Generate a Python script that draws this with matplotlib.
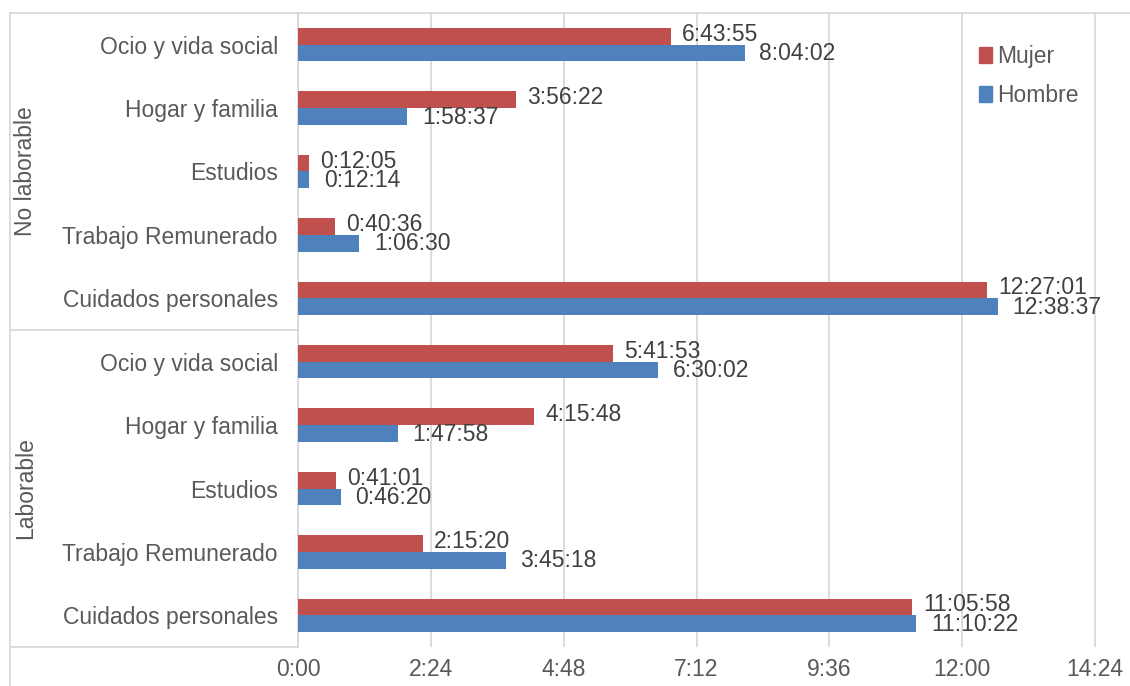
import matplotlib
matplotlib.use('Agg')
import matplotlib.pyplot as plt
import matplotlib.patches as patches
from matplotlib.lines import Line2D
from matplotlib.ticker import FixedLocator, FuncFormatter

plt.rcParams['font.family'] = ['Liberation Sans', 'DejaVu Sans']

# datos (de abajo hacia arriba): Laborable primero, luego No laborable
categorias = ['Cuidados personales', 'Trabajo Remunerado', 'Estudios',
              'Hogar y familia', 'Ocio y vida social'] * 2
grupos = ['Laborable', 'No laborable']
mujer = ['11:05:58', '2:15:20', '0:41:01', '4:15:48', '5:41:53',
         '12:27:01', '0:40:36', '0:12:05', '3:56:22', '6:43:55']
hombre = ['11:10:22', '3:45:18', '0:46:20', '1:47:58', '6:30:02',
          '12:38:37', '1:06:30', '0:12:14', '1:58:37', '8:04:02']
ticks_h = [0, 2.4, 4.8, 7.2, 9.6, 12.0, 14.4]

C_MUJER = '#C0504D'
C_HOMBRE = '#4F81BD'
C_GRID = '#D9D9D9'
C_TEXT = '#595959'
C_LABEL = '#404040'
FS = 16.5


def to_hours(s):
    h, m, sec = [int(v) for v in s.split(':')]
    return h + m / 60 + sec / 3600


def fmt_tick(x, pos):
    total = int(round(x * 60))
    return f"{total // 60}:{total % 60:02d}"


W, H = 1130, 686
fig = plt.figure(figsize=(W / 100, H / 100), dpi=100)
ax = fig.add_axes([298 / W, 1 - 647 / H, (W - 298) / W, (647 - 13) / H])

bar_h = 0.262
ys = list(range(len(categorias)))
m_vals = [to_hours(v) for v in mujer]
h_vals = [to_hours(v) for v in hombre]

ax.barh([y + bar_h / 2 for y in ys], m_vals, height=bar_h, color=C_MUJER, label='Mujer', zorder=3)
ax.barh([y - bar_h / 2 for y in ys], h_vals, height=bar_h, color=C_HOMBRE, label='Hombre', zorder=3)

for y, v, s in zip(ys, m_vals, mujer):
    ax.annotate(s, (v, y + bar_h / 2), xytext=(8, 1.5), textcoords='offset points',
                va='center', ha='left', fontsize=FS, color=C_LABEL)
for y, v, s in zip(ys, h_vals, hombre):
    ax.annotate(s, (v, y - bar_h / 2), xytext=(10.5, -0.5), textcoords='offset points',
                va='center', ha='left', fontsize=FS, color=C_LABEL)

ax.set_xlim(0, (W - 298) / 55.35)
ax.set_ylim(-0.5, len(categorias) - 0.5)
ax.xaxis.set_major_locator(FixedLocator(ticks_h))
ax.xaxis.set_major_formatter(FuncFormatter(fmt_tick))
ax.set_yticks(ys)
ax.set_yticklabels(categorias)
ax.tick_params(axis='x', length=0, pad=8, labelsize=FS, labelcolor=C_TEXT)
ax.tick_params(axis='y', length=0, pad=14.5, labelsize=FS, labelcolor=C_TEXT)
ax.grid(axis='x', color=C_GRID, linewidth=1.3, zorder=0)
for side in ['top', 'right', 'bottom']:
    ax.spines[side].set_visible(False)
ax.spines['left'].set_color(C_GRID)
ax.spines['left'].set_linewidth(1.3)

# lineas de la zona de grupos (coordenadas en pixeles de figura)
def fig_line(x0, y0, x1, y1):
    fig.add_artist(Line2D([x0 / W, x1 / W], [1 - y0 / H, 1 - y1 / H],
                          color=C_GRID, linewidth=1.3))

fig_line(10, 13, W, 13)
fig_line(10, 13, 10, H)
fig_line(10, 330, 298, 330)
fig_line(10, 647, 298, 647)

fig.text(26 / W, 1 - 171 / H, grupos[1], rotation=90, ha='center', va='center',
         fontsize=FS, color=C_TEXT)
fig.text(26 / W, 1 - 488 / H, grupos[0], rotation=90, ha='center', va='center',
         fontsize=FS, color=C_TEXT)

handles = [patches.Patch(color=C_MUJER), patches.Patch(color=C_HOMBRE)]
fig.legend(handles, ['Mujer', 'Hombre'], loc='upper left',
           bbox_to_anchor=(963 / W, 1 - 29 / H), frameon=False, fontsize=FS,
           handlelength=0.55, handleheight=0.75, handletextpad=0.25,
           labelspacing=0.7, labelcolor=C_TEXT, borderpad=0.2)

fig.savefig('out.png', dpi=100)
